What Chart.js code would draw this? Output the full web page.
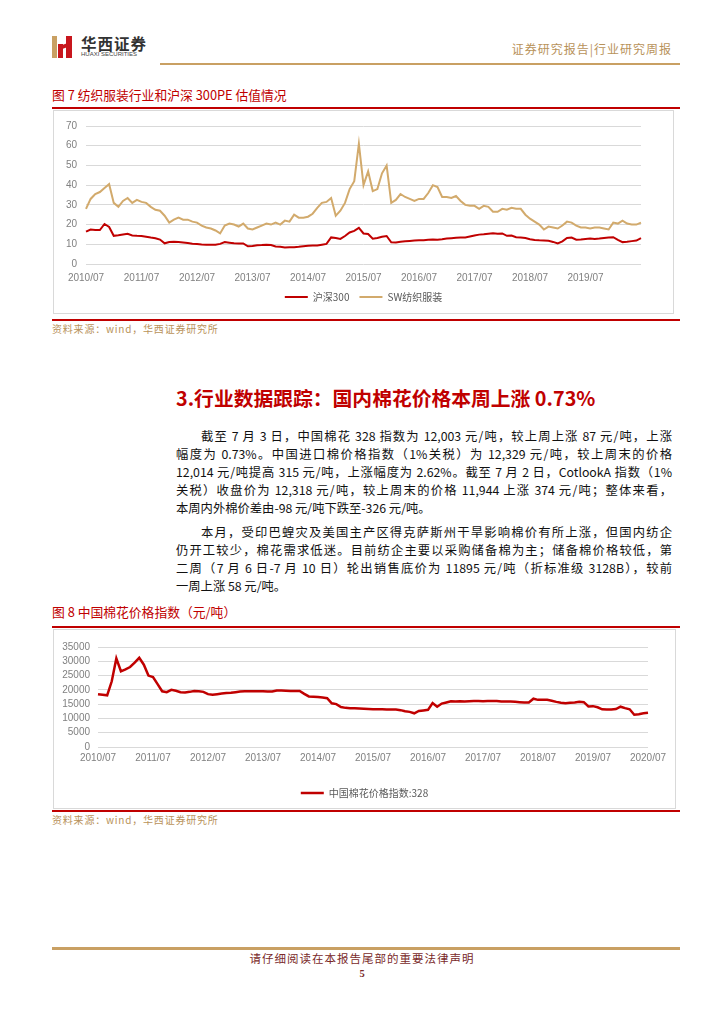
<!DOCTYPE html>
<html>
<head>
<meta charset="utf-8">
<script src="https://cdn.jsdelivr.net/npm/chart.js@4.4.1/dist/chart.umd.min.js"></script>
<style>
  body { margin: 0; background: #fff; font-family: "Noto Sans CJK SC", sans-serif; }
  .page { position: relative; width: 724px; height: 1024px; overflow: hidden; }
  .abs { position: absolute; white-space: nowrap; }
  .logo-gold { position: absolute; left: 52px; top: 36px; width: 5px; height: 22px; background: #c9a063; }
  .logo-red1 { position: absolute; left: 58px; top: 44px; width: 5px; height: 14px; background: #c8161d; }
  .logo-red2 { position: absolute; left: 66px; top: 36px; width: 6px; height: 22px; background: #c8161d; }
  .logo-red3 { position: absolute; left: 58px; top: 44px; width: 14px; height: 4px; background: #c8161d; transform: skewY(-20deg); }
  .rule-red { position: absolute; left: 52px; width: 628px; height: 2px; background: #c00000; }
  .caption { position: absolute; left: 52px; font-size: 12.8px; color: #c00000; }
  .source { position: absolute; left: 52px; font-size: 10px; letter-spacing: 0.8px; color: #b8925a; }
  .box { position: absolute; border: 1px solid #d9d9d9; box-sizing: border-box; }
  .para { position: absolute; left: 176px; width: 496px; font-size: 12.3px; color: #111; text-align: justify; text-align-last: justify; white-space: nowrap; line-height: 18px; }
</style>
</head>
<body>
<div class="page">
  <!-- header -->
  <div class="logo-gold"></div>
  <div class="logo-red1"></div>
  <div class="logo-red3"></div>
  <div class="logo-red2"></div>
  <div class="abs" style="left:81px;top:32px;font-size:15.5px;font-weight:bold;color:#333;letter-spacing:1px;">华西证券</div>
  <div class="abs" style="left:81px;top:51px;font-size:6px;color:#444;font-family:'Liberation Sans';">HUAXI SECURITIES</div>
  <div class="abs" style="right:52px;top:40px;font-size:12px;color:#b8925a;letter-spacing:1px;">证券研究报告|行业研究周报</div>
  <div class="abs" style="left:160px;top:63px;width:520px;height:2px;background:#c9a063;"></div>

  <!-- figure 7 -->
  <div class="caption" style="top:85px;">图 7 纺织服装行业和沪深 300PE 估值情况</div>
  <div class="rule-red" style="top:107px;"></div>
  <div class="box" style="left:53px;top:110px;width:621px;height:204px;">
    <canvas id="peChart"></canvas>
  </div>
  <div class="rule-red" style="top:319px;"></div>
  <div class="source" style="top:321px;">资料来源：wind，华西证券研究所</div>

  <!-- section text -->
  <div class="abs" style="left:176px;top:383px;font-size:19.8px;font-weight:bold;color:#c00000;">3.行业数据跟踪：国内棉花价格本周上涨 0.73%</div>
  <div class="para" style="top:427px;padding-left:25px;width:471px;">截至 7 月 3 日，中国棉花 328 指数为 12,003 元/吨，较上周上涨 87 元/吨，上涨</div>
  <div class="para" style="top:445px;">幅度为 0.73%。中国进口棉价格指数（1%关税）为 12,329 元/吨，较上周末的价格</div>
  <div class="para" style="top:463px;">12,014 元/吨提高 315 元/吨，上涨幅度为 2.62%。截至 7 月 2 日，CotlookA 指数（1%</div>
  <div class="para" style="top:481px;">关税）收盘价为 12,318 元/吨，较上周末的价格 11,944 上涨 374 元/吨；整体来看，</div>
  <div class="para" style="top:499px;text-align-last:left;">本周内外棉价差由-98 元/吨下跌至-326 元/吨。</div>
  <div class="para" style="top:523px;padding-left:25px;width:471px;">本月，受印巴蝗灾及美国主产区得克萨斯州干旱影响棉价有所上涨，但国内纺企</div>
  <div class="para" style="top:541px;">仍开工较少，棉花需求低迷。目前纺企主要以采购储备棉为主；储备棉价格较低，第</div>
  <div class="para" style="top:559px;">二周（7 月 6 日-7 月 10 日）轮出销售底价为 11895 元/吨（折标准级 3128B），较前</div>
  <div class="para" style="top:577px;text-align-last:left;">一周上涨 58 元/吨。</div>

  <!-- figure 8 -->
  <div class="caption" style="top:602px;">图 8 中国棉花价格指数（元/吨）</div>
  <div class="rule-red" style="top:626px;"></div>
  <div class="box" style="left:53px;top:629px;width:623px;height:180px;">
    <canvas id="cottonChart"></canvas>
  </div>
  <div class="rule-red" style="top:810px;"></div>
  <div class="source" style="top:812px;">资料来源：wind，华西证券研究所</div>

  <!-- footer -->
  <div class="abs" style="left:52px;top:947px;width:628px;height:3px;background:#c9a063;"></div>
  <div class="abs" style="left:0;width:724px;top:950px;text-align:center;font-size:11.5px;letter-spacing:1px;color:#7a2a2a;">请仔细阅读在本报告尾部的重要法律声明</div>
  <div class="abs" style="left:0;width:724px;top:968px;text-align:center;font-size:10.5px;font-weight:bold;color:#7a2a2a;font-family:'Liberation Serif';">5</div>
</div>

<script>
// 月度标签 2010/07 - 2020/07
const months = [];
for (let y = 2010; y <= 2020; y++) {
  for (let m = 1; m <= 12; m++) {
    if ((y === 2010 && m < 7) || (y === 2020 && m > 7)) continue;
    months.push(y + "/" + String(m).padStart(2, "0"));
  }
}

// 沪深300 PE
const hs300PE = [
  16.4, 17.5, 17.3, 17.2, 20.3, 18.8, 14.3, 14.6, 15.0, 15.3, 14.5, 14.3,
  14.2, 13.8, 13.4, 13.1, 12.4, 10.5, 11.2, 11.3, 11.1, 10.9, 10.6, 10.3,
  10.1, 9.9, 9.8, 9.8, 9.8, 10.2, 11.1, 10.8, 10.5, 10.4, 10.4, 9.0,
  9.1, 9.5, 9.6, 9.8, 9.6, 8.9, 8.7, 8.4, 8.5, 8.5, 8.7, 9.0,
  9.3, 9.4, 9.4, 9.8, 10.2, 13.5, 13.2, 12.7, 14.2, 16.0, 16.8, 18.3,
  15.5, 15.2, 12.8, 13.2, 13.8, 14.2, 11.0, 10.9, 11.3, 11.5, 11.7, 11.9,
  12.0, 12.1, 12.3, 12.4, 12.3, 12.5, 12.9, 13.1, 13.3, 13.4, 13.5, 14.0,
  14.5, 14.9, 15.1, 15.4, 15.6, 15.4, 15.5, 14.3, 14.4, 13.6, 13.4, 13.2,
  12.6, 12.2, 12.0, 11.9, 11.8, 11.2, 10.4, 11.5, 13.2, 13.4, 12.3, 12.4,
  12.7, 12.9, 12.7, 12.9, 13.2, 13.4, 13.6, 12.2, 11.1, 11.3, 11.6, 11.9,
  13.1
];

// SW纺织服装 PE
const swTextilePE = [
  28, 33, 35.5, 36.5, 38.5, 40.5, 31, 29, 32, 33.5, 31, 32.5,
  31.5, 31, 29, 27.5, 27, 24.5, 21, 22.5, 23.5, 22.5, 22.5, 21.5,
  21, 19.5, 18.5, 18, 17, 15.5, 19.5, 20.5, 20, 19, 20.5, 18,
  17.5, 18.5, 19.5, 20.5, 20, 21, 20, 22, 21.5, 25, 23.5, 23.5,
  24, 25.5, 28.5, 31, 31.5, 33.5, 24.5, 27, 31, 38, 42, 61,
  40, 47, 37, 38, 46, 50, 31, 32.5, 35.5, 34, 33, 32,
  33, 33, 36, 40, 39, 34, 34, 33.5, 34.5, 32, 30, 29.5,
  29.5, 28, 29.5, 29, 26.5, 26.5, 28, 27.5, 28.5, 28, 28, 25,
  23, 21.5, 20, 17.5, 19, 18.5, 18, 19.5, 21.5, 21, 19.5, 18.5,
  18.5, 18, 18.5, 18.5, 18, 17.5, 21, 20.5, 22, 20.5, 20, 20,
  21
];

// 中国棉花价格指数:328（元/吨）
const cotton328 = [
  18500, 18300, 18100, 23000, 31000, 26500, 27200, 28000, 29500, 31200, 28800, 25000,
  24500, 22000, 19500, 19200, 20000, 19700, 19200, 19100, 19300, 19600, 19500, 19300,
  18500, 18300, 18500, 18700, 18900, 19000, 19200, 19400, 19500, 19500, 19500, 19500,
  19500, 19400, 19400, 19800, 19800, 19700, 19600, 19600, 19600, 18600, 17700, 17600,
  17500, 17300, 17100, 15300, 15000, 14000, 13700, 13600, 13600, 13500, 13400, 13300,
  13200, 13200, 13200, 13100, 13100, 13100, 12900, 12500, 12300, 11800, 12600, 12800,
  13000, 15400, 14100, 15200, 15600, 16000, 15900, 16000, 15900, 16000, 16100, 16100,
  16000, 16100, 16100, 16100, 15900, 15900, 15900, 15800, 15700, 15600, 15600, 16900,
  16500, 16500, 16500, 16200, 15800, 15500, 15300, 15500, 15600, 15800, 15700, 14200,
  14300, 13900, 13200, 13100, 13100, 13300, 14100, 13600, 13200, 11300, 11500, 11800,
  12003
];

const tickFont = { family: "'Liberation Sans', Arial, sans-serif", size: 10 };
const tickColor = "#808080";
const gridColor = "#d9d9d9";

function xTicks(lastShown, pad) {
  return {
    autoSkip: false,
    maxRotation: 0,
    color: tickColor,
    font: tickFont,
    padding: pad,
    callback: function (val) {
      const lab = this.getLabelForValue(val);
      if (!lab.endsWith("/07")) return null;
      if (lab > lastShown) return null;
      return lab;
    },
  };
}

function legendOpts(pad) {
  return {
    position: "bottom",
    labels: {
      usePointStyle: true,
      pointStyle: "line",
      pointStyleWidth: 23,
      boxHeight: 10,
      color: "#595959",
      font: { family: "'Noto Sans CJK SC', sans-serif", size: 10 },
      padding: pad,
    },
  };
}

// 右侧空白轴，只用来留出绘图区右边距（图例仍按整个画布居中）
function spacerAxis(w) {
  return {
    position: "right",
    display: true,
    grid: { display: false, drawTicks: false },
    border: { display: false },
    ticks: { display: false },
    afterFit: (s) => { s.width = w; },
  };
}

new Chart(document.getElementById("peChart"), {
  type: "line",
  data: {
    labels: months,
    datasets: [
      { label: "沪深300", data: hs300PE, borderColor: "#c00000", backgroundColor: "#c00000", borderWidth: 2, pointRadius: 0, tension: 0 },
      { label: "SW纺织服装", data: swTextilePE, borderColor: "#d2aa6c", backgroundColor: "#d2aa6c", borderWidth: 2, pointRadius: 0, tension: 0 },
    ],
  },
  options: {
    responsive: true,
    maintainAspectRatio: false,
    animation: false,
    layout: { padding: { top: 8, right: 0, bottom: 1, left: 0 } },
    plugins: { legend: legendOpts(10), tooltip: { enabled: false } },
    scales: {
      x: {
        offset: false,
        grid: { display: false, drawTicks: false },
        border: { display: false },
        ticks: xTicks("2019/07", 8),
        afterFit: (s) => { s.height = 18; },
      },
      y: {
        min: 0,
        max: 70,
        ticks: { stepSize: 10, autoSkip: false, color: tickColor, font: tickFont, padding: 9 },
        grid: { color: gridColor, drawTicks: false },
        border: { display: false },
        afterFit: (s) => { s.width = 32; },
      },
      yRight: spacerAxis(32),
    },
  },
});

new Chart(document.getElementById("cottonChart"), {
  type: "line",
  data: {
    labels: months,
    datasets: [
      { label: "中国棉花价格指数:328", data: cotton328, borderColor: "#c00000", backgroundColor: "#c00000", borderWidth: 2.5, pointRadius: 0, tension: 0 },
    ],
  },
  options: {
    responsive: true,
    maintainAspectRatio: false,
    animation: false,
    layout: { padding: { top: 17, right: 0, bottom: 0, left: 0 } },
    plugins: { legend: legendOpts(11), tooltip: { enabled: false } },
    scales: {
      x: {
        offset: false,
        grid: { display: false, drawTicks: false },
        border: { display: false },
        ticks: xTicks("2020/07", 5),
        afterFit: (s) => { s.height = 30; },
      },
      y: {
        min: 0,
        max: 35000,
        ticks: { stepSize: 5000, autoSkip: false, color: tickColor, font: tickFont, padding: 8, callback: (v) => String(v) },
        grid: { color: gridColor, drawTicks: false },
        border: { display: false },
        afterFit: (s) => { s.width = 44; },
      },
      yRight: spacerAxis(27),
    },
  },
});
</script>
</body>
</html>
